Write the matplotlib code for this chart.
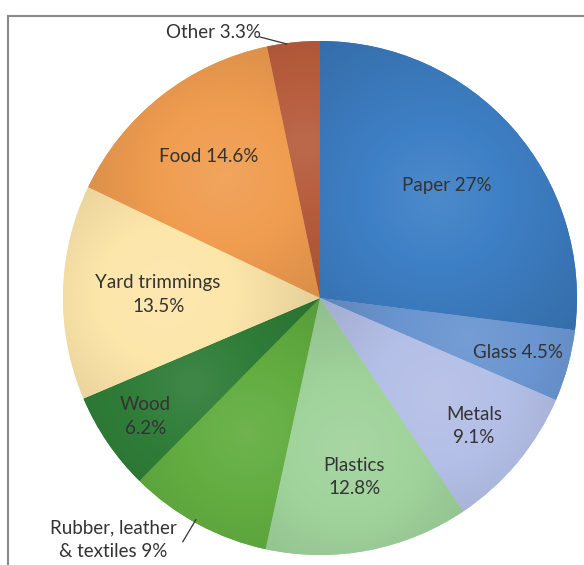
import matplotlib.pyplot as plt
import numpy as np
from matplotlib.colors import to_rgb

plt.rcParams['font.family'] = ['Lato', 'DejaVu Sans']

categories = ['Paper', 'Glass', 'Metals', 'Plastics', 'Rubber, leather\n& textiles',
              'Wood', 'Yard trimmings', 'Food', 'Other']
values = [27, 4.5, 9.1, 12.8, 9, 6.2, 13.5, 14.6, 3.3]
value_labels = ['27%', '4.5%', '9.1%', '12.8%', '9%', '6.2%', '13.5%', '14.6%', '3.3%']
colors = ['#3e80c6', '#6a95d0', '#b4bfe7', '#a0d39c', '#62ad40',
          '#2f7d38', '#fde6aa', '#f09d50', '#b65c3c']

# label layout: separator between name and value, radial distance (fraction of radius)
seps = [' ', ' ', '\n', '\n', ' ', '\n', '\n', ' ', ' ']
label_r = [0.66, 0.80, 0.78, 0.71, None, 0.82, 0.63, 0.70, None]

fig = plt.figure(figsize=(5.84, 5.65), dpi=100)
ax = fig.add_axes([0, 0, 1, 1])

cx, cy, R = 320, 267, 257
wedges, _ = ax.pie(values, colors=colors, startangle=90, counterclock=False,
                   center=(cx, cy), radius=R, frame=True,
                   wedgeprops=dict(linewidth=0))
ax.set_xlim(0, 584)
ax.set_ylim(0, 565)
ax.axis('off')

# soft shading inside each wedge
xs = np.linspace(cx - R, cx + R, 400)
ys = np.linspace(cy - R, cy + R, 400)
X, Y = np.meshgrid(xs, ys)
for w, c in zip(wedges, colors):
    mid = np.deg2rad((w.theta1 + w.theta2) / 2)
    px, py = cx + 0.6 * R * np.cos(mid), cy + 0.6 * R * np.sin(mid)
    d = np.hypot(X - px, Y - py) / R
    base = np.array(to_rgb(c))
    t = np.clip(0.08 - 0.3 * d, -0.2, 0.08)
    img = np.where(t[..., None] > 0,
                   base + (1 - base) * t[..., None],
                   base * (1 + t[..., None]))
    im = ax.imshow(img, extent=(cx - R, cx + R, cy - R, cy + R), origin='lower',
                   interpolation='bilinear', zorder=2)
    im.set_clip_path(w)

txt = dict(va='center', fontsize=13.5, color='#333333', zorder=5, linespacing=1.45)
for w, name, val, sep, r in zip(wedges, categories, value_labels, seps, label_r):
    if r is None:
        continue
    mid = np.deg2rad((w.theta1 + w.theta2) / 2)
    ax.text(cx + r * R * np.cos(mid), cy + r * R * np.sin(mid), name + sep + val,
            ha='center', **txt)

# outside labels with leader lines
ax.text(113, 25, categories[4] + seps[4] + value_labels[4], ha='center', **txt)
w = wedges[4]
mid = np.deg2rad((w.theta1 + w.theta2) / 2)
ex, ey = cx + 0.99 * R * np.cos(mid), cy + 0.99 * R * np.sin(mid)
ax.plot([ex - 3, ex - 16], [ey + 2, ey - 20], color='#333333', lw=0.9, zorder=5)

ax.text(213, 532, categories[8] + seps[8] + value_labels[8], ha='center', **txt)
w = wedges[8]
mid = np.deg2rad((w.theta1 + w.theta2) / 2)
ex, ey = cx + 0.99 * R * np.cos(mid), cy + 0.99 * R * np.sin(mid)
ax.plot([260, ex - 7], [528, ey + 1], color='#333333', lw=0.9, zorder=5)

# frame lines
ax.plot([8, 8], [0, 549], color='#8a8a8a', lw=1.5, zorder=1)
ax.plot([8, 584], [549, 549], color='#8a8a8a', lw=1.5, zorder=1)

fig.savefig('out.png', dpi=100)
